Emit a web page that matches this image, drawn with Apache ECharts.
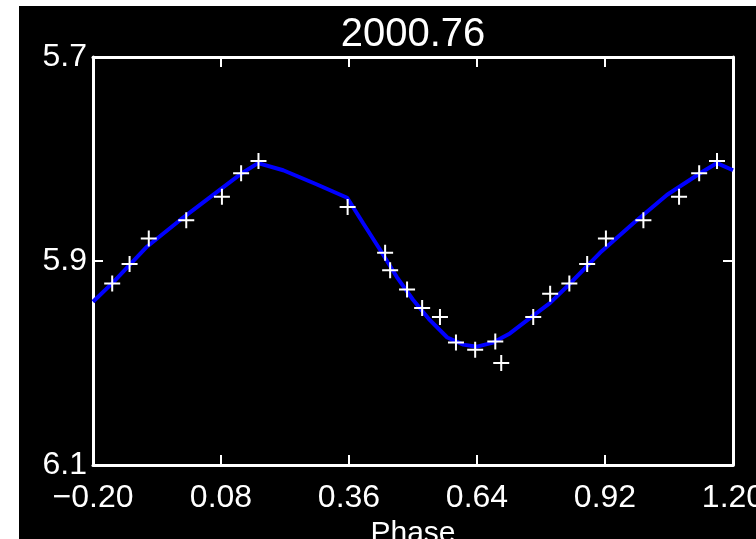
<!DOCTYPE html>
<html><head><meta charset="utf-8">
<script src="https://cdn.jsdelivr.net/npm/echarts@6/dist/echarts.min.js"></script>
<style>
html,body{margin:0;padding:0;background:#fff;width:756px;height:539px;overflow:hidden}
#c{position:absolute;left:19px;top:6px;width:737px;height:533px;background:#000}
</style></head><body><div id="c"></div>
<script>
const titleText = "2000.76";
const xName = "Phase";
const xTickLabels = [-0.20, 0.08, 0.36, 0.64, 0.92, 1.20];
const xInnerTicks = [0.08, 0.36, 0.64, 0.92];
const yTickLabels = [5.7, 5.9, 6.1];
const yInnerTicks = [5.9];

const markerPhase = [-0.158, -0.120, -0.078, 0.004, 0.082, 0.124, 0.162, 0.357, 0.439, 0.450, 0.487, 0.520, 0.559, 0.594, 0.636, 0.680, 0.693, 0.763, 0.800, 0.842, 0.881, 0.922, 1.004, 1.082, 1.126, 1.165];
const markerMag   = [5.922, 5.903, 5.878, 5.860, 5.837, 5.814, 5.802, 5.847, 5.892, 5.909, 5.928, 5.946, 5.955, 5.980, 5.987, 5.979, 6.000, 5.955, 5.932, 5.922, 5.903, 5.878, 5.860, 5.837, 5.814, 5.802];

const fitPhase = [-0.200, -0.156, -0.082, -0.010, 0.034, 0.078, 0.122, 0.161, 0.216, 0.290, 0.356, 0.391, 0.428, 0.465, 0.500, 0.537, 0.575, 0.610, 0.640, 0.675, 0.712, 0.750, 0.800, 0.837, 0.909, 0.982, 1.056, 1.128, 1.165, 1.200];
const fitMag   = [5.940, 5.921, 5.886, 5.860, 5.845, 5.830, 5.815, 5.804, 5.811, 5.825, 5.838, 5.863, 5.889, 5.916, 5.938, 5.958, 5.975, 5.982, 5.984, 5.980, 5.971, 5.958, 5.941, 5.925, 5.892, 5.863, 5.835, 5.814, 5.804, 5.811];

const FONT = 'Liberation Sans';
const chart = echarts.init(document.getElementById('c'), null, {renderer: 'canvas'});

const fmtX = v => { const s = Math.abs(v).toFixed(2); return v < -1e-9 ? '\u2212' + s : s; };
const fmtY = v => v.toFixed(1);

const xBase = {
  type: 'value', min: -0.2, max: 1.2,
  splitLine: {show: false},
  axisLine: {show: true, onZero: false, lineStyle: {color: '#fff', width: 3}},
  axisTick: {show: true, inside: true, length: 10, customValues: xInnerTicks, lineStyle: {color: '#fff', width: 2}}
};
const yBase = {
  type: 'value', min: 5.7, max: 6.1, inverse: true,
  splitLine: {show: false},
  axisLine: {show: true, onZero: false, lineStyle: {color: '#fff', width: 3}},
  axisTick: {show: true, inside: true, length: 10, customValues: yInnerTicks, lineStyle: {color: '#fff', width: 2}}
};

chart.setOption({
  backgroundColor: '#000',
  animation: false,
  grid: {left: 74, top: 51, right: 23, bottom: 74, containLabel: false, outerBoundsMode: 'none'},
  graphic: [{
    type: 'text', x: 394, y: 9,
    style: {text: titleText, fill: '#fff', font: '40px "' + FONT + '"', textAlign: 'center', textVerticalAlign: 'top'}
  }],
  xAxis: [
    Object.assign({}, xBase, {
      position: 'bottom',
      name: xName, nameLocation: 'middle', nameGap: 52,
      nameTextStyle: {color: '#fff', fontFamily: FONT, fontSize: 30},
      axisLabel: {show: true, customValues: xTickLabels, formatter: fmtX, color: '#fff', fontFamily: FONT, fontSize: 32, margin: 17}
    }),
    Object.assign({}, xBase, {position: 'top', axisLabel: {show: false}})
  ],
  yAxis: [
    Object.assign({}, yBase, {
      position: 'left',
      axisLabel: {show: true, customValues: yTickLabels, formatter: fmtY, color: '#fff', fontFamily: FONT, fontSize: 32, margin: 6}
    }),
    Object.assign({}, yBase, {position: 'right', axisLabel: {show: false}})
  ],
  series: [
    {
      type: 'line', xAxisIndex: 0, yAxisIndex: 0,
      data: fitPhase.map((p, i) => [p, fitMag[i]]),
      showSymbol: false, symbol: 'none',
      lineStyle: {color: '#0000ff', width: 4},
      clip: false, z: 2
    },
    {
      type: 'scatter', xAxisIndex: 0, yAxisIndex: 0,
      data: markerPhase.map((p, i) => [p, markerMag[i]]),
      symbol: 'path://M-1,-8 L1,-8 L1,-1 L8,-1 L8,1 L1,1 L1,8 L-1,8 L-1,1 L-8,1 L-8,-1 L-1,-1 Z',
      symbolSize: 16,
      itemStyle: {color: '#fff', opacity: 1},
      z: 3
    }
  ]
});
</script></body></html>
